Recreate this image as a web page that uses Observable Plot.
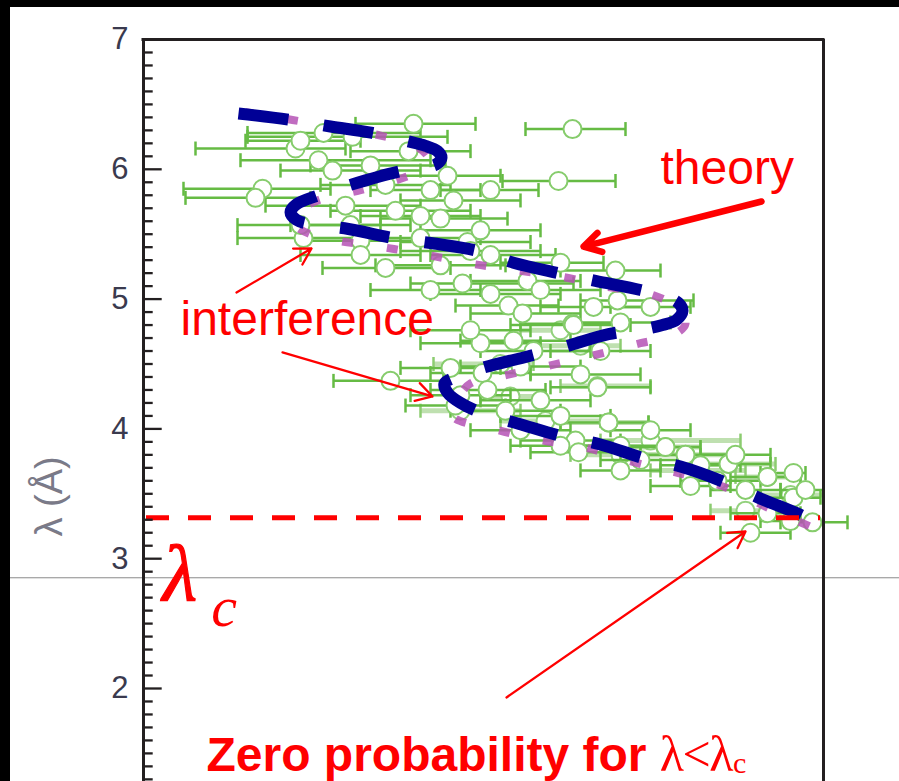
<!DOCTYPE html>
<html><head><meta charset="utf-8">
<script src="https://cdn.jsdelivr.net/npm/d3@7"></script>
<script src="https://cdn.jsdelivr.net/npm/@observablehq/plot@0.6"></script>
<style>
html,body{margin:0;padding:0;background:#000;}
#wrap{position:absolute;left:10px;top:7px;width:889px;height:774px;background:#fff;overflow:hidden}
</style></head><body><div id="wrap"></div>
<script>
// ---- measured points (x in arbitrary units, λ in Å), horizontal error bars lo..hi
const ptX  = [27.0,42.9,18.0,15.2,20.9,15.7,17.5,18.9,22.7,11.9,11.2,30.4,31.0,34.7,41.5,25.2,27.7,16.0,21.7,27.7,32.4,29.7,15.7,20.2,26.5,24.2,28.7,20.7,33.7,24.2,32.7,34.7,41.7,47.2,31.9,38.4,34.7,36.5,37.9,42.9,47.4,47.7,50.7,45.0,29.7,28.7,21.7,39.7,24.7,33.7,37.0,39.0,43.0,33.9,43.7,45.4,41.7,46.5,34.4,39.7,30.7,31.7,37.7,36.2,31.2,37.7,43.2,45.7,32.7,43.5,47.7,52.2,54.2,58.5,62.4,65.0,57.4,65.0,62.4,60.7,66.9,49.7,55.7,50.7,60.2,59.2,64.7,66.2,47.7,54.7,41.7];
const ptL  = [6.35,6.31,6.28,6.16,6.25,6.22,6.07,5.99,6.03,5.85,5.78,5.95,5.76,5.84,5.91,5.68,5.64,5.47,5.45,5.47,5.44,5.62,5.57,5.72,6.14,5.88,5.84,5.57,5.53,5.24,5.37,5.34,5.28,5.22,5.12,5.14,5.04,4.95,4.89,4.81,4.99,4.82,4.94,4.94,5.26,5.07,5.34,5.07,4.37,4.66,4.68,4.60,4.80,4.43,4.42,4.32,4.10,4.05,4.30,4.22,4.47,4.26,4.48,4.14,4.18,3.99,3.91,4.60,4.76,3.82,3.87,3.86,3.80,3.73,3.63,3.66,3.60,3.47,3.35,3.20,3.28,3.76,3.72,3.99,3.53,3.80,3.29,3.53,3.68,3.56,3.87];
const ptLo = [21.2,38.2,10.4,5.2,10.4,10.2,9.7,13.7,16.7,4.0,4.2,24.7,25.7,29.7,35.9,18.7,21.7,9.4,15.7,21.7,25.7,23.7,9.4,12.2,20.7,17.7,22.7,14.7,27.7,17.9,25.7,28.7,35.7,41.7,26.7,32.7,28.7,31.2,32.7,37.7,43.7,42.7,46.7,39.7,23.2,22.7,15.7,33.7,19.0,27.7,31.7,33.7,36.7,28.7,38.7,40.7,35.7,41.7,28.7,33.7,25.7,26.7,31.7,30.7,26.2,32.7,37.7,40.7,26.7,38.7,43.7,47.7,49.7,54.7,58.7,61.7,53.7,61.7,58.7,57.7,63.7,45.7,51.7,46.7,56.7,55.7,61.7,63.7,43.7,50.7,36.7];
const ptHi = [33.2,48.2,27.7,20.2,30.4,21.7,28.7,27.7,30.2,18.7,16.7,35.7,37.7,39.5,47.2,32.7,33.7,21.7,27.7,33.7,38.7,36.4,23.7,27.7,32.7,30.7,33.7,26.7,39.7,30.7,39.7,41.2,46.0,51.7,43.0,43.7,41.7,41.5,43.7,47.7,55.0,52.7,54.7,50.7,36.2,34.7,27.7,45.7,30.0,39.7,42.7,44.7,48.7,38.7,49.7,50.7,46.7,50.5,40.2,44.7,35.7,36.7,43.7,41.7,36.2,42.7,47.7,50.7,38.7,47.7,51.7,55.7,58.7,62.7,65.7,66.2,61.7,67.7,65.7,64.7,70.4,53.7,59.7,54.7,63.7,62.7,67.2,68.0,51.7,58.7,45.7];

// ---- second (faded) set of measurements
const fdX  = [45.4,46.5,52.2,54.2,58.5,62.4,50.7,35.7,41.7,36.7,55.7,47.7,31.7,40.2,43.7,64.7,60.2];
const fdL  = [4.33,4.05,3.86,3.80,3.73,3.63,3.91,4.50,4.76,4.25,3.68,3.80,4.14,4.06,4.64,3.49,3.37];
const fdLo = [41.7,41.7,47.7,49.7,54.7,59.2,45.7,29.0,37.7,33.7,50.7,42.7,27.7,35.7,39.7,61.7,56.7];
const fdHi = [50.7,50.5,55.7,59.2,63.2,65.7,59.7,39.0,45.7,40.2,60.2,54.7,37.7,45.7,47.7,68.0,64.7];

// ---- theory curve (navy dashed) and its companion (magenta)
const thX = [9.5,14.7,18.7,22.9,26.2,28.2,29.4,29.8,29.3,27.7,25.4,20.7,17.5,15.3,14.7,15.3,16.5,20.5,25.0,28.9,33.5,37.0,41.5,45.2,49.7,52.2,53.5,53.9,53.3,51.9,50.2,46.5,42.0,38.5,33.9,31.2,30.1,30.4,31.7,33.9,37.5,42.0,45.7,50.2,53.7,58.4,61.5,65.9,66.7];
const thL = [6.43,6.38,6.33,6.28,6.22,6.18,6.14,6.09,6.04,6.01,5.98,5.88,5.80,5.73,5.67,5.61,5.58,5.54,5.47,5.43,5.37,5.28,5.20,5.14,5.07,5.02,4.97,4.91,4.84,4.80,4.77,4.73,4.63,4.56,4.47,4.40,4.35,4.28,4.20,4.12,4.04,3.94,3.88,3.77,3.71,3.58,3.47,3.33,3.29];
const mgX = [10.2,14.9,19.3,23.7,27.2,28.5,27.7,26.2,21.7,17.4,15.4,15.2,16.7,19.4,23.9,28.4,33.0,37.5,42.0,46.7,51.0,53.2,54.2,52.9,49.7,45.2,40.7,36.0,32.7,31.4,30.9,35.5,40.0,44.5,49.2,53.5,58.5,62.5,67.2];
const mgL = [6.44,6.38,6.32,6.26,6.18,6.08,5.99,5.94,5.84,5.76,5.67,5.57,5.50,5.45,5.40,5.34,5.27,5.22,5.17,5.09,5.03,4.94,4.81,4.72,4.66,4.57,4.49,4.41,4.35,4.23,4.10,3.99,3.91,3.85,3.74,3.66,3.54,3.39,3.23];

// ---- axis
const yMajor = [2,3,4,5,6,7];
const yMinor = d3.range(13, 70).filter(i => i % 10 !== 0).map(i => i / 10);
const xDomain = [0, 68];
const yDomain = [1.2835, 7];
const yLabel = "λ (Å)";

// ---- annotations
const lambdaC = 3.315;
const grayLine = 2.853;
const labels = [
  {x: 51.7, y: 5.883, text: "theory"},
  {x: 3.7,  y: 4.727, text: "interference"}
];
const bottomNote = {x: 6.3, y: 1.368, text: "Zero probability for λ<λc"};
const lcNote = {x: 1.9, y: 2.678, text: "λc"};
const yLabelPos = {x: -9.4, y: 3.48, text: yLabel};
const thickArrows = [{x1: 61.8, y1: 5.752, x2: 44.0, y2: 5.405}];
const thinArrows = [
  {x1: 9.3,  y1: 5.051, x2: 16.8, y2: 5.390},
  {x1: 13.9, y1: 4.589, x2: 28.9, y2: 4.250},
  {x1: 36.3, y1: 1.931, x2: 60.2, y2: 3.210}
];

const pts = ptX.map((x, i) => ({x, y: ptL[i], lo: ptLo[i], hi: ptHi[i]}));
const fad = fdX.map((x, i) => ({x, y: fdL[i], lo: fdLo[i], hi: fdHi[i]}));
const th = thX.map((x, i) => ({x, y: thL[i]}));
const mg = mgX.map((x, i) => ({x, y: mgL[i]}));

const capSym = {draw(ctx, size) { const h = Math.sqrt(size / Math.PI); ctx.moveTo(0, -h); ctx.lineTo(0, h); }};
const green = "#66bb44";
const ink = "#231f20";

const svg = Plot.plot({
  width: 889, height: 774,
  marginLeft: 133, marginRight: 76, marginTop: 32, marginBottom: 0,
  x: {domain: xDomain, axis: null},
  y: {domain: yDomain, axis: null},
  style: {fontFamily: "'Liberation Sans', Arial, sans-serif", background: "white", overflow: "visible"},
  marks: [
    Plot.ruleY([grayLine], {x1: -13.3, x2: 75.6, stroke: "#8a8a8a", strokeWidth: 1}),
    // faded set
    Plot.ruleY(fad, {y: "y", x1: "lo", x2: "hi", stroke: "#bfe0b0", strokeWidth: 5}),
    Plot.dot(fad, {x: "lo", y: "y", symbol: capSym, r: 7, fill: "none", stroke: "#8ccc70", strokeWidth: 2.5}),
    Plot.dot(fad, {x: "hi", y: "y", symbol: capSym, r: 7, fill: "none", stroke: "#8ccc70", strokeWidth: 2.5}),
    Plot.dot(fad, {x: "x", y: "y", r: 9, fill: "white", stroke: "#93d17d", strokeWidth: 2}),
    // main set
    Plot.ruleY(pts, {y: "y", x1: "lo", x2: "hi", stroke: green, strokeWidth: 2.5}),
    Plot.dot(pts, {x: "lo", y: "y", symbol: capSym, r: 7, fill: "none", stroke: green, strokeWidth: 2.5}),
    Plot.dot(pts, {x: "hi", y: "y", symbol: capSym, r: 7, fill: "none", stroke: green, strokeWidth: 2.5}),
    Plot.dot(pts, {x: "x", y: "y", r: 9, fill: "white", stroke: "#86cc6c", strokeWidth: 2}),
    // theory
    Plot.line(mg, {x: "x", y: "y", stroke: "#b552b5", strokeWidth: 8, strokeDasharray: "11,34", strokeDashoffset: 3, strokeLinecap: "butt", curve: "catmull-rom", strokeOpacity: 0.85}),
    Plot.line(th, {x: "x", y: "y", stroke: "#000096", strokeWidth: 12, strokeDasharray: "50,36", strokeLinecap: "butt", curve: "catmull-rom"}),
    // lambda_c
    Plot.ruleY([lambdaC], {x1: 0.3, x2: 67.7, stroke: "#ff0000", strokeWidth: 5, strokeDasharray: "23,19"}),
    // frame & ticks
    Plot.ruleY(yMinor, {x1: 0, x2: 0.97, stroke: ink, strokeWidth: 2.3}),
    Plot.ruleY(yMajor, {x1: 0, x2: 1.87, stroke: ink, strokeWidth: 2.3}),
    Plot.ruleX([0], {stroke: ink, strokeWidth: 3}),
    Plot.ruleX([68], {stroke: ink, strokeWidth: 3}),
    Plot.ruleY([7], {x1: -0.15, x2: 68.15, stroke: ink, strokeWidth: 3}),
    Plot.axisY({ticks: yMajor, tickFormat: d => String(d), tickSize: 0, tickPadding: 15, fontSize: 31, fill: "#3a3a4e", label: null}),
    Plot.text([yLabelPos], {x: "x", y: "y", text: "text", rotate: -90, fontSize: 38, fill: "#7a7a88"}),
    // annotations
    Plot.arrow(thickArrows, {x1: "x1", y1: "y1", x2: "x2", y2: "y2", stroke: "#ff0000", strokeWidth: 6.5, headLength: 4.5, headAngle: 60}),
    Plot.arrow(thinArrows, {x1: "x1", y1: "y1", x2: "x2", y2: "y2", stroke: "#ff0000", strokeWidth: 2.3, headLength: 12, headAngle: 60}),
    Plot.text(labels, {x: "x", y: "y", text: "text", fill: "#ff0000", fontSize: 48, textAnchor: "start", lineAnchor: "bottom"}),
    Plot.text([bottomNote], {x: "x", y: "y", text: "text", fill: "#ff0000", fontSize: 48, fontWeight: "bold", textAnchor: "start", lineAnchor: "bottom"}),
    Plot.text([lcNote], {x: "x", y: "y", text: "text", fill: "#ff0000", fontSize: 80, fontStyle: "italic", fontFamily: "'Liberation Serif', 'Times New Roman', serif", textAnchor: "start", lineAnchor: "bottom"})
  ]
});

function richText(root, marker, parts) {
  root.querySelectorAll("text").forEach(t => {
    if (t.textContent !== marker) return;
    while (t.firstChild) t.removeChild(t.firstChild);
    for (const p of parts) {
      const s = document.createElementNS("http://www.w3.org/2000/svg", "tspan");
      s.textContent = p.text;
      for (const [k, v] of Object.entries(p.attr || {})) s.setAttribute(k, v);
      t.appendChild(s);
    }
  });
}
richText(svg, bottomNote.text, [
  {text: "Zero probability for "},
  {text: "λ<λ", attr: {"font-weight": "normal", "font-family": "'Liberation Serif', serif", "font-size": 50, "letter-spacing": -1.5}},
  {text: "c", attr: {"font-weight": "normal", "font-family": "'Liberation Serif', serif", "font-size": 30, "dy": 2, "dx": 1}}
]);
richText(svg, lcNote.text, [
  {text: "λ", attr: {"stroke": "#ff0000", "stroke-width": 1.2}},
  {text: "c", attr: {"font-size": 58, "dy": 26, "dx": 14}}
]);

document.getElementById("wrap").appendChild(svg);
</script></body></html>
